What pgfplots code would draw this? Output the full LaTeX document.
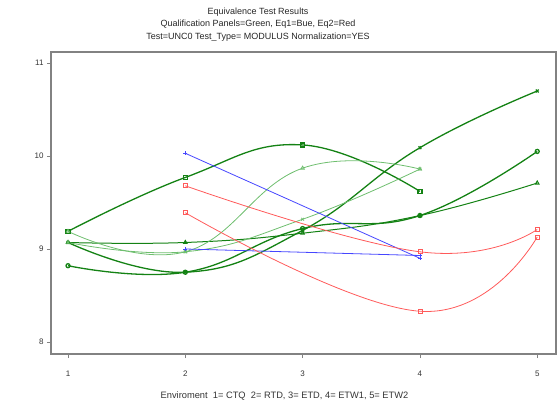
\documentclass[border=0pt]{standalone}
\usepackage{pgfplots}
\pgfplotsset{compat=1.18}
\usepackage{fontspec}
\setmainfont{Liberation Sans}
\definecolor{dg}{RGB}{20,130,20}
\definecolor{lg}{RGB}{110,190,110}
\definecolor{bl}{RGB}{70,70,255}
\definecolor{rd}{RGB}{255,90,90}
\definecolor{fr}{RGB}{130,130,130}
\begin{document}
\begin{tikzpicture}[x=1pt,y=1pt]
\path[use as bounding box] (-51,-51) rectangle (507,354);
\begin{axis}[
  at={(0,0)}, anchor=south west,
  scale only axis, width=505pt, height=302pt,
  xmin=0.855, xmax=5.16, ymin=7.87, ymax=11.12,
  axis line style={draw=fr, line width=1.4pt},
  xtick={1,2,3,4,5}, ytick={8,9,10,11},
  xtick pos=bottom, ytick pos=left,
  tick align=outside, major tick length=4pt,
  tick style={draw=fr, line width=0.8pt},
  ticklabel style={font=\fontsize{8}{9}\selectfont, text=black!80},
  /pgf/number format/assume math mode=true,
  xticklabel style={yshift=-9pt},
  xlabel={Enviroment\ \ 1= CTQ\ \ 2= RTD, 3= ETD, 4= ETW1, 5= ETW2},
  xlabel style={font=\fontsize{9.3}{10}\selectfont, text=black!80, yshift=-9pt, xshift=-19pt},
  clip=false,
  every axis plot/.append style={smooth, tension=0.75, mark size=2pt, mark options={solid,fill=none}},
]
% green thick
\addplot[dg, line width=1.3pt, mark=square] coordinates {(1,9.19) (2,9.77) (3,10.12) (4,9.62)};
\addplot[dg, line width=1.3pt, mark=x] coordinates {(1,9.07) (2,8.75) (3,9.20) (4,10.09) (5,10.70)};
\addplot[dg, line width=1.3pt, mark=o] coordinates {(1,8.82) (2,8.75) (3,9.22) (4,9.36) (5,10.05)};
\addplot[dg, line width=1.0pt, mark=triangle] coordinates {(1,9.07) (2,9.07) (3,9.17) (4,9.36) (5,9.71)};
% green light
\addplot[lg, line width=0.8pt, mark=triangle] coordinates {(1,9.19) (2,8.97) (3,9.87) (4,9.86)};
\addplot[lg, line width=0.8pt, mark=x] coordinates {(1,9.07) (2,8.97) (3,9.32) (4,9.86)};
% blue
\addplot[bl, line width=0.8pt, mark=+] coordinates {(2,10.03) (4,8.90)};
\addplot[bl, line width=0.8pt, mark=+] coordinates {(2,9.00) (4,8.93)};
% red
\addplot[rd, line width=0.8pt, mark=square] coordinates {(2,9.68) (4,8.97) (5,9.21)};
\addplot[rd, line width=0.8pt, mark=square] coordinates {(2,9.39) (4,8.33) (5,9.13)};
\end{axis}
\node[font=\fontsize{9}{10}\selectfont, text=black!85, anchor=center] at (207,342) {Equivalence Test Results};
\node[font=\fontsize{9}{10}\selectfont, text=black!85, anchor=center] at (207,329.5) {Qualification Panels=Green, Eq1=Bue, Eq2=Red};
\node[font=\fontsize{9}{10}\selectfont, text=black!85, anchor=center] at (207,317) {Test=UNC0 Test\_Type= MODULUS Normalization=YES};
\end{tikzpicture}
\end{document}
